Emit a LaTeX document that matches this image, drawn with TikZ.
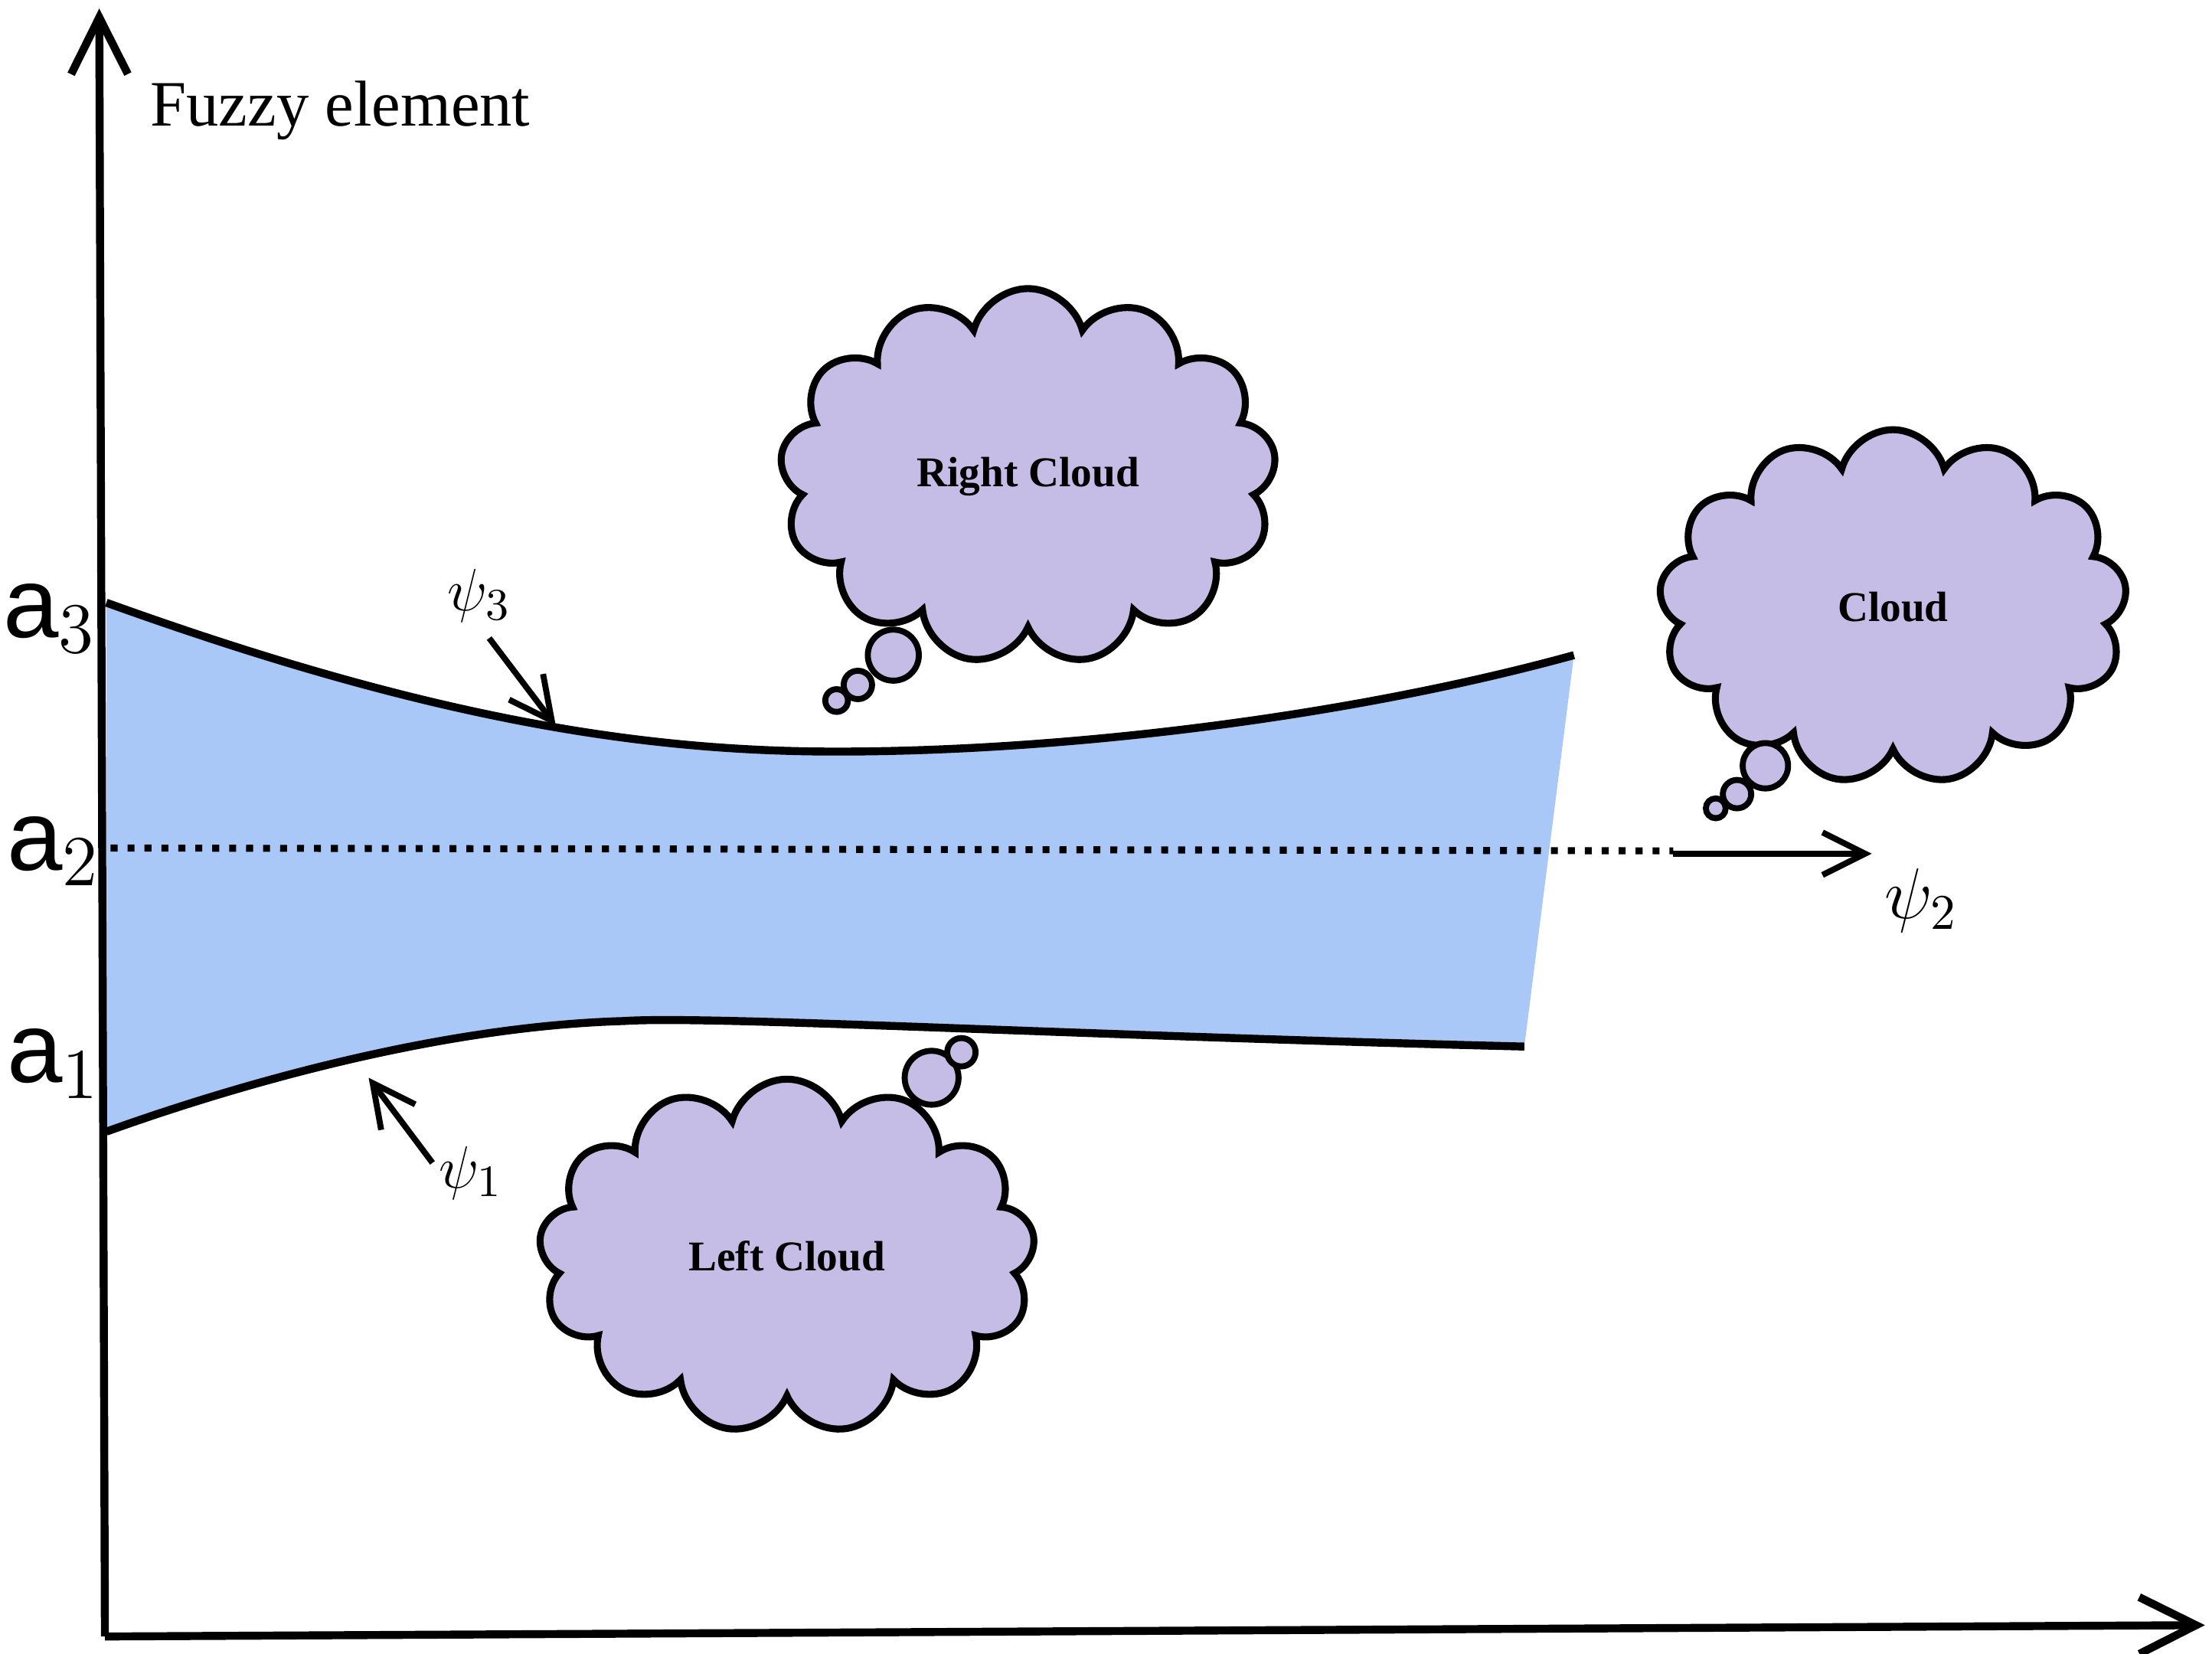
\documentclass[tikz,border=0pt]{standalone}
\usepackage{fontspec}
\setmainfont{Liberation Serif}
\newfontfamily\labelfont{Liberation Sans}
\usetikzlibrary{shapes.symbols,arrows.meta}
\definecolor{bandblue}{HTML}{A9C8F7}
\definecolor{cloudpurple}{HTML}{C5BDE5}
\tikzset{
  axis/.style={line width=1.6pt,-{Straight Barb[length=4mm,width=4mm]}},
  thought/.style={cloud, cloud puffs=13, cloud ignores aspect, draw=black, line width=1.4pt,
    fill=cloudpurple, font=\fontsize{8.5}{10}\selectfont\bfseries},
  bubble/.style={circle, draw=black, line width=1.2pt, fill=cloudpurple, inner sep=0pt},
  level/.style={font=\labelfont\fontsize{20}{22}\selectfont},
  pointer/.style={line width=1.2pt,-{Straight Barb[length=3mm,width=3mm]}}
}
\begin{document}
\begin{tikzpicture}

    % Frame
    \useasboundingbox (0,0) rectangle (15.6,11.66);

    % The band between psi_1 and psi_3
    \fill[bandblue] (0.75,7.41) .. controls (3,6.6) and (4.5,6.36) .. (5.9,6.36)
        .. controls (7.5,6.36) and (9.5,6.6) .. (11.1,7.04)
        -- (10.75,4.28) .. controls (7.5,4.36) and (5,4.50) .. (4.4,4.46)
        .. controls (3,4.42) and (1.5,3.95) .. (0.75,3.68) -- cycle;
    \draw[line width=1.6pt] (0.75,7.41) .. controls (3,6.6) and (4.5,6.36) .. (5.9,6.36)
        .. controls (7.5,6.36) and (9.5,6.6) .. (11.1,7.04);
    \draw[line width=1.6pt] (10.75,4.28) .. controls (7.5,4.36) and (5,4.50) .. (4.4,4.46)
        .. controls (3,4.42) and (1.5,3.95) .. (0.75,3.68);

    % Axes
    \coordinate (origin) at (0.74,0.12);
    \coordinate (ytip) at (0.70,11.6);
    \coordinate (xtip) at (15.55,0.2);
    \draw[axis] (origin) -- (ytip);
    \draw[axis] (origin) -- (xtip);
    \node[font=\fontsize{13}{15}\selectfont] (ylabel) at (2.4,10.88) {Fuzzy element};

    % Levels
    \node[level] (a3) at (0.35,7.3) {a$_3$};
    \node[level] (a2) at (0.38,5.66) {a$_2$};
    \node[level] (a1) at (0.38,4.16) {a$_1$};

    % psi_2 line
    \coordinate (mid) at (0.78,5.68);
    \coordinate (midend) at (11.8,5.66);
    \coordinate (arrstart) at (11.8,5.64);
    \coordinate (arrend) at (13.2,5.64);
    \draw[line width=1.4pt, dotted] (mid) -- (midend);
    \draw[pointer] (arrstart) -- (arrend);
    \node[font=\fontsize{14}{16}\selectfont] (psi2) at (13.55,5.31) {$\psi_2$};

    % psi_3 and psi_1 pointers
    \node[font=\fontsize{13}{15}\selectfont] (psi3) at (3.38,7.46) {$\psi_3$};
    \coordinate (psi3tip) at (3.92,6.54);
    \draw[pointer] (3.45,7.16) -- (psi3tip);
    \node[font=\fontsize{13}{15}\selectfont] (psi1) at (3.32,3.39) {$\psi_1$};
    \coordinate (psi1tip) at (2.6,4.06);
    \draw[pointer] (3.05,3.46) -- (psi1tip);

    % Clouds
    \node[thought, minimum width=3.5cm, minimum height=2.65cm] (rightcloud) at (7.25,8.3) {Right Cloud};
    \node[bubble, minimum size=0.36cm] (rb1) at (6.3,7.04) {};
    \node[bubble, minimum size=0.2cm] (rb2) at (6.05,6.83) {};
    \node[bubble, minimum size=0.16cm] (rb3) at (5.9,6.72) {};

    \node[thought, minimum width=3.3cm, minimum height=2.5cm] (cloud) at (13.35,7.38) {Cloud};
    \node[bubble, minimum size=0.32cm] (cb1) at (12.45,6.26) {};
    \node[bubble, minimum size=0.2cm] (cb2) at (12.25,6.06) {};
    \node[bubble, minimum size=0.14cm] (cb3) at (12.1,5.96) {};

    \node[bubble, minimum size=0.38cm] (lb1) at (6.57,4.06) {};
    \node[bubble, minimum size=0.2cm] (lb2) at (6.78,4.24) {};
    \node[thought, minimum width=3.5cm, minimum height=2.5cm] (leftcloud) at (5.55,2.8) {Left Cloud};

\end{tikzpicture}
\end{document}
